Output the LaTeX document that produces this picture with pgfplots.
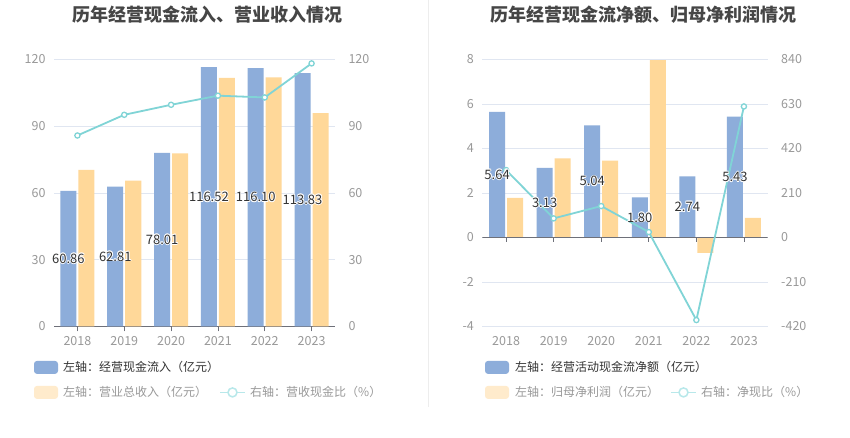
\documentclass[border=0pt]{standalone}
\usepackage{pgfplots}
\pgfplotsset{compat=1.18}
\usepackage{fontspec}
\setmainfont{Noto Sans CJK SC}
\definecolor{barblue}{HTML}{8DADDA}
\definecolor{barorange}{HTML}{FFD899}
\definecolor{lineteal}{HTML}{80D4D6}
\definecolor{gridc}{HTML}{E0E6F1}
\definecolor{axisc}{HTML}{6E7079}
\definecolor{labc}{HTML}{999999}
\definecolor{titc}{HTML}{464646}
\definecolor{legorange}{HTML}{FFEBCC}
\definecolor{legteal}{HTML}{B8E8EA}
\newcommand\halo[1]{%
 \def\h##1##2{\makebox[0pt][l]{\hspace{##1}\raisebox{##2}{\color{white}#1}}}%
 \h{0.8pt}{0pt}\h{-0.8pt}{0pt}\h{0pt}{0.8pt}\h{0pt}{-0.8pt}\h{0.6pt}{0.6pt}\h{-0.6pt}{0.6pt}\h{0.6pt}{-0.6pt}\h{-0.6pt}{-0.6pt}#1}
\pgfplotsset{
  base/.style={scale only axis, anchor=south west, height=267pt,
    xmin=-0.5, xmax=5.5, xtick={0,...,5}, xticklabels={2018,2019,2020,2021,2022,2023},
    ticklabel style={font=\fontsize{12.5}{12.5}\selectfont, color=labc},
    /pgf/number format/assume math mode=true,
    tick align=outside, major tick length=5pt},
  lineplot/.style={lineteal, line width=1.8pt, mark=*, mark size=2.6pt,
    mark options={fill=white, draw=lineteal, line width=1.3pt}},
  labplot/.style={sharp plot, draw=none, mark=none, point meta=explicit symbolic,
    nodes near coords={\halo{\pgfplotspointmeta}},
    nodes near coords style={anchor=center, font=\fontsize{13}{13}\selectfont, color=black!80, xshift=-9pt}},
}
\begin{document}
\begin{tikzpicture}[x=1pt,y=1pt]
\path[fill=white] (0,0) rectangle (850,437);
\draw[color=black!7, line width=0.8pt] (428,437) -- (428,30);
% titles
\node[font=\fontsize{18}{18}\selectfont\bfseries, color=titc] at (207,423) {历年经营现金流入、营业收入情况};
\node[font=\fontsize{18}{18}\selectfont\bfseries, color=titc] at (643,423) {历年经营现金流净额、归母净利润情况};

% ===== Left chart =====
\begin{axis}[base, at={(54pt,111pt)}, width=281pt,
  ymin=0, ymax=120, ytick={0,30,...,120},
  axis x line*=bottom, axis y line*=left,
  x axis line style={color=axisc, line width=0.8pt, -},
  y axis line style={draw=none},
  xtick style={color=axisc, line width=0.8pt}, ytick style={draw=none},
  ymajorgrids, grid style={color=gridc, line width=0.7pt},
  yticklabel style={xshift=0pt}, xticklabel style={yshift=-1pt},
  ybar, bar width=16pt]
\addplot[fill=barblue, draw=none, bar shift=-9pt] coordinates {(0,60.86) (1,62.81) (2,78.01) (3,116.52) (4,116.10) (5,113.83)};
\addplot[fill=barorange, draw=none, bar shift=9pt] coordinates {(0,70.4) (1,65.5) (2,77.8) (3,111.7) (4,111.9) (5,95.9)};
\end{axis}
\begin{axis}[base, at={(54pt,111pt)}, width=281pt,
  ymin=0, ymax=120, ytick={0,30,...,120},
  axis x line=none, axis y line*=right, y axis line style={draw=none}, ytick style={draw=none},
  yticklabel style={xshift=5pt}]
\addplot[lineplot] coordinates {(0,85.8) (1,95.1) (2,99.6) (3,103.7) (4,102.9) (5,118.2)};
\end{axis}
\begin{axis}[base, at={(54pt,111pt)}, width=281pt, ymin=0, ymax=120, hide axis]
\addplot[labplot] coordinates {(0,30.43) [60.86] (1,31.41) [62.81] (2,39.01) [78.01] (3,58.26) [116.52] (4,58.05) [116.10] (5,56.92) [113.83]};
\end{axis}

% ===== Right chart =====
\begin{axis}[base, at={(482.3pt,111pt)}, width=285.4pt,
  ymin=-4, ymax=8, ytick={-4,-2,...,8},
  axis x line*=bottom, axis y line*=left,
  x axis line style={draw=none}, y axis line style={draw=none},
  xtick style={draw=none}, ytick style={draw=none},
  ymajorgrids, grid style={color=gridc, line width=0.7pt},
  yticklabel style={xshift=0pt}, xticklabel style={yshift=-1pt},
  ybar, bar width=16pt]
\addplot[fill=barblue, draw=none, bar shift=-9pt] coordinates {(0,5.64) (1,3.13) (2,5.04) (3,1.80) (4,2.74) (5,5.43)};
\addplot[fill=barorange, draw=none, bar shift=9pt] coordinates {(0,1.78) (1,3.55) (2,3.45) (3,7.97) (4,-0.70) (5,0.88)};
\draw[color=axisc, line width=0.8pt] (axis cs:-0.5,0) -- (axis cs:5.5,0);
\pgfplotsinvokeforeach{0,...,5}{\draw[color=axisc, line width=0.8pt] (axis cs:#1,0) -- ([yshift=-5pt]axis cs:#1,0);}
\end{axis}
\begin{axis}[base, at={(482.3pt,111pt)}, width=285.4pt,
  ymin=-420, ymax=840, ytick={-420,-210,...,840},
  axis x line=none, axis y line*=right, y axis line style={draw=none}, ytick style={draw=none},
  yticklabel style={xshift=5pt}]
\addplot[lineplot] coordinates {(0,317.8) (1,89.7) (2,147.9) (3,25.2) (4,-390) (5,618)};
\end{axis}
\begin{axis}[base, at={(482.3pt,111pt)}, width=285.4pt, ymin=-4, ymax=8, hide axis]
\addplot[labplot] coordinates {(0,2.82) [5.64] (1,1.565) [3.13] (2,2.52) [5.04] (3,0.90) [1.80] (4,1.37) [2.74] (5,2.715) [5.43]};
\end{axis}

% ===== Legends =====
\begin{scope}[font=\fontsize{12}{12}\selectfont]
\fill[barblue, rounded corners=3pt] (34,63.5) rectangle ++(24,13);
\node[anchor=west, inner sep=0, color=black!80] at (63,70) {左轴：经营现金流入（亿元）};
\fill[legorange, rounded corners=3pt] (34,38.5) rectangle ++(24,13);
\node[anchor=west, inner sep=0, color=labc] at (63,45) {左轴：营业总收入（亿元）};
\draw[legteal, line width=1.5pt] (220,45) -- ++(25,0);
\draw[legteal, line width=1.5pt, fill=white] (232.5,45) circle (4.5pt);
\node[anchor=west, inner sep=0, color=labc] at (250,45) {右轴：营收现金比（\%）};

\fill[barblue, rounded corners=3pt] (485,63.5) rectangle ++(24,13);
\node[anchor=west, inner sep=0, color=black!80] at (515,70) {左轴：经营活动现金流净额（亿元）};
\fill[legorange, rounded corners=3pt] (485,38.5) rectangle ++(24,13);
\node[anchor=west, inner sep=0, color=labc] at (515,45) {左轴：归母净利润（亿元）};
\draw[legteal, line width=1.5pt] (671,45) -- ++(25,0);
\draw[legteal, line width=1.5pt, fill=white] (683.5,45) circle (4.5pt);
\node[anchor=west, inner sep=0, color=labc] at (701,45) {右轴：净现比（\%）};
\end{scope}
\end{tikzpicture}
\end{document}
